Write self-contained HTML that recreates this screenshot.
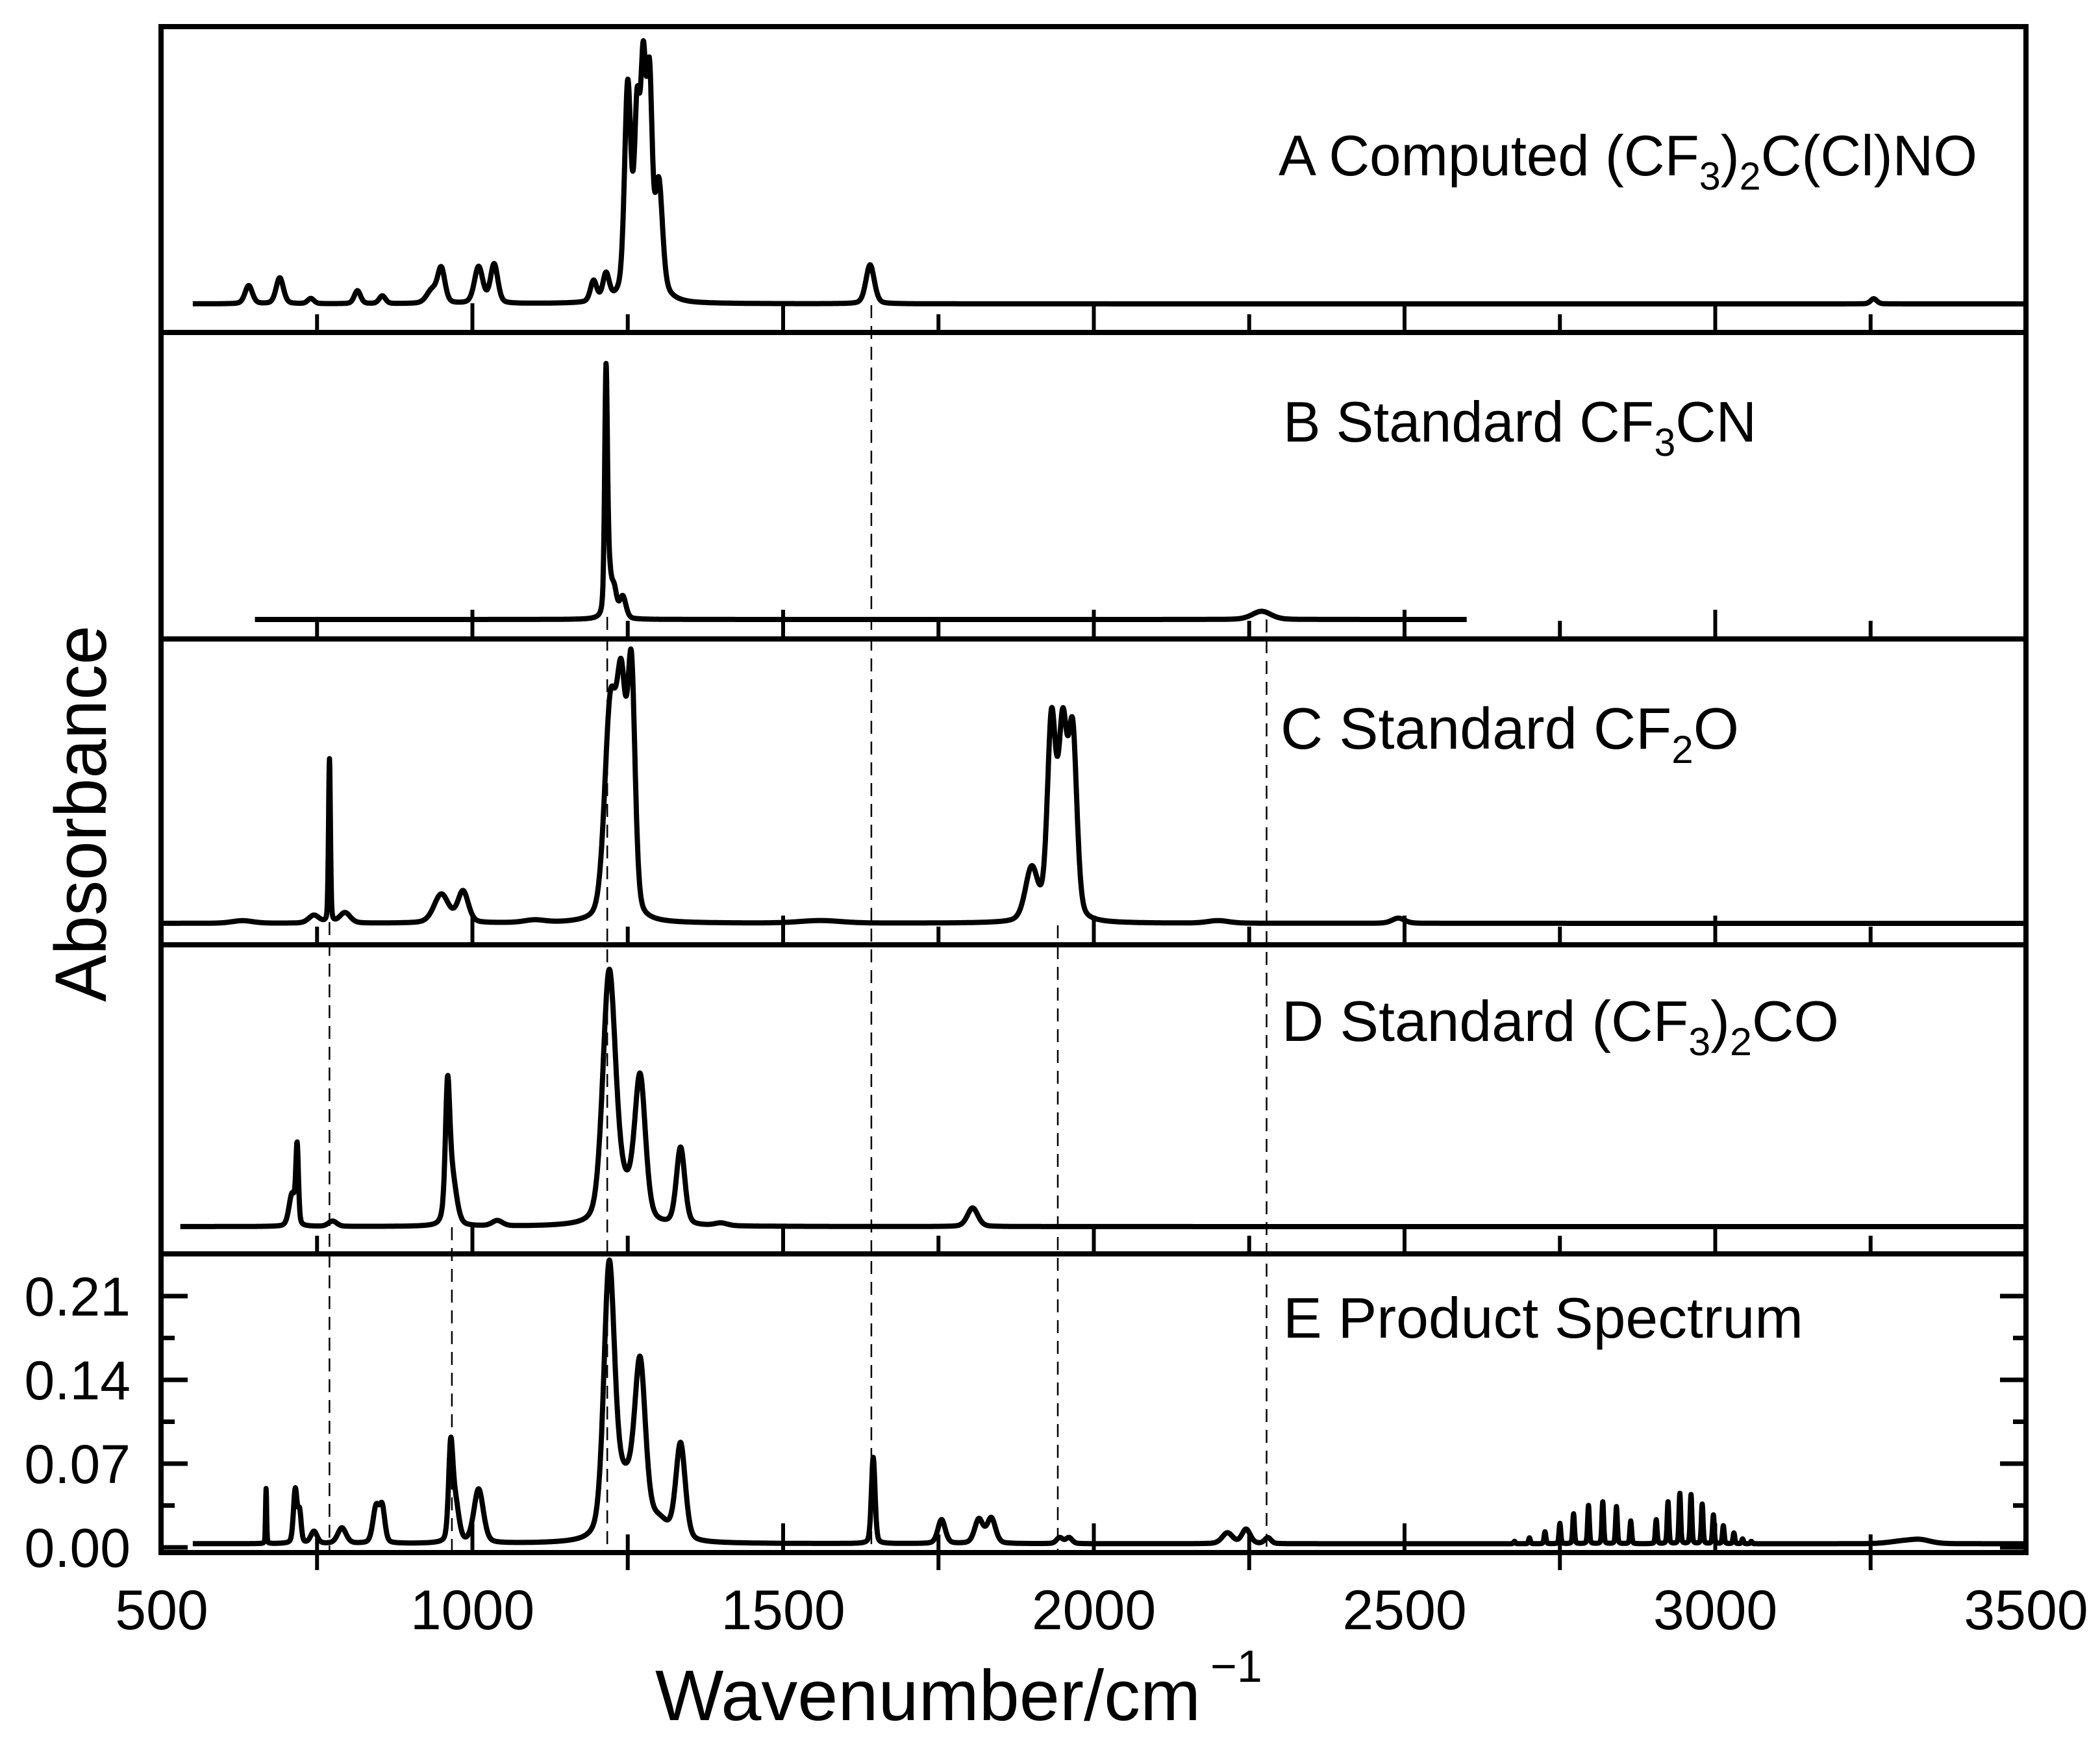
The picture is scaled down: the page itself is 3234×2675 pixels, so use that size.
<!DOCTYPE html>
<html><head><meta charset="utf-8"><style>
html,body{margin:0;padding:0;background:#fff}
svg{display:block}
text{font-family:"Liberation Sans",Arial,sans-serif;fill:#000}
</style></head><body>
<svg id="chart" xmlns="http://www.w3.org/2000/svg" width="3234" height="2675" viewBox="0 0 3234 2675">
<g id="frames"></g>
<g id="dash"></g>
<g id="series"></g>
<g id="ticks"></g>
<g id="labels"></g>
<text x="1969" y="270" font-size="88" textLength="1076" lengthAdjust="spacingAndGlyphs">A Computed (CF<tspan font-size="60" dy="22">3</tspan><tspan dy="-22">)</tspan><tspan font-size="60" dy="22">2</tspan><tspan dy="-22">C(Cl)NO</tspan></text>
<text x="1976" y="680" font-size="88" textLength="729" lengthAdjust="spacingAndGlyphs">B Standard CF<tspan font-size="60" dy="22">3</tspan><tspan dy="-22">CN</tspan></text>
<text x="1972" y="1153" font-size="90" textLength="706" lengthAdjust="spacingAndGlyphs">C Standard CF<tspan font-size="60" dy="22">2</tspan><tspan dy="-22">O</tspan></text>
<text x="1974" y="1603" font-size="88" textLength="858" lengthAdjust="spacingAndGlyphs">D Standard (CF<tspan font-size="60" dy="22">3</tspan><tspan dy="-22">)</tspan><tspan font-size="60" dy="22">2</tspan><tspan dy="-22">CO</tspan></text>
<text x="1976" y="2060" font-size="88" textLength="801" lengthAdjust="spacingAndGlyphs">E Product Spectrum</text>
<text x="1009" y="2649" font-size="110" textLength="840" lengthAdjust="spacingAndGlyphs">Wavenumber/cm</text>
<text x="1864" y="2590" font-size="70">−1</text>
<text transform="translate(163,1253) rotate(-90)" text-anchor="middle" font-size="112" textLength="580" lengthAdjust="spacingAndGlyphs">Absorbance</text>
</svg>
<script>
// ---- data: peaks (center cm-1, height, half-width) ----
const aCenters=[640,690,740,815,855,935,950,1010,1035,1195,1215,1250,1265,1275,1285,1300,1275,1640,3255];
const aHeights=[0.07,0.10,0.02,0.05,0.03,0.05,0.13,0.14,0.15,0.08,0.10,0.78,0.62,0.77,0.74,0.40,0.08,0.15,0.02];
const aWidths=[7,7,6,6,6,10,7,8,7,6,6,6,5,5,5,7,30,8,6];
const aRange=[550,3500];
const bCenters=[1215,1218,1228,1242,2270];
const bHeights=[0.78,0.2,0.1,0.08,0.03];
const bWidths=[2.5,5,5,6,18];
const bRange=[650,2600];
const cCenters=[630,745,770,795,950,985,1100,1222,1240,1256,1560,1900,1932,1950,1966,2200,2490];
const cHeights=[0.01,0.03,0.63,0.04,0.11,0.12,0.01,0.8,0.8,0.9,0.01,0.2,0.76,0.7,0.7,0.01,0.02];
const cWidths=[20,10,1.8,10,14,10,20,11,9,7,40,12,8,8,8,20,12];
const cRange=[500,3500];
const dCenters=[710,718,775,960,966,1040,1220,1245,1270,1335,1400,1805];
const dHeights=[0.12,0.28,0.02,0.42,0.2,0.02,0.9,0.12,0.5,0.29,0.01,0.07];
const dWidths=[6,2.5,8,4,9,10,12,25,10,8,12,10];
const dRange=[530,3500];
const eCenters=[668,715,722,745,790,845,855,965,972,1010,1220,1245,1270,1300,1335,1645,1755,1815,1835,1945,1960,2215,2245,2280,
 2677,2701,2726,2750,2772,2796,2819,2841,2864,2905,2924,2943,2961,2979,2997,3013,3030,3044,3058,3300,3330];
const eHeights=[0.046,0.045,0.025,0.01,0.013,0.03,0.028,0.07,0.035,0.045,0.21,0.05,0.125,0.015,0.08,0.072,0.02,0.02,0.021,0.005,0.005,0.009,0.012,0.005,
 0.002,0.005,0.010,0.017,0.025,0.032,0.035,0.031,0.019,0.020,0.035,0.042,0.041,0.033,0.024,0.015,0.009,0.004,0.002,0.002,0.003];
const eWidths=[1,3.5,3,6,8,6,5,4,7,9,10,25,10,20,9,3.5,7,8,8,6,6,10,8,6,
 1.6,1.6,1.6,1.6,1.6,1.6,1.6,1.6,1.6,1.6,1.6,1.6,1.6,1.6,1.6,1.6,1.6,1.6,1.6,25,20];
const eRange=[550,3500];
const eBaseline=0.003;
const xTickLabels=["500","1000","1500","2000","2500","3000","3500"];
const yTickLabels=["0.00","0.07","0.14","0.21"];
// [wavenumber, start y, end y]
const dashedPositions=[[770,1420,2391],[967,1890,2391],[1217,950,2391],[1642,470,2391],[1942,1425,2391],[2278,954,2391]];

// ---- geometry ----
const NS="http://www.w3.org/2000/svg";
const L=249,R=3120;
const X=w=>L+(w-500)*(R-L)/3000;
const ETA=0.3;
const panels=[
 {name:'a',c:aCenters,h:aHeights,w:aWidths,r:aRange,base:468,scale:400,b0:0},
 {name:'b',c:bCenters,h:bHeights,w:bWidths,r:bRange,base:954,scale:420,b0:0},
 {name:'c',c:cCenters,h:cHeights,w:cWidths,r:cRange,base:1422,scale:400,b0:0},
 {name:'d',c:dCenters,h:dHeights,w:dWidths,r:dRange,base:1889,scale:410,b0:0},
 {name:'e',c:eCenters,h:eHeights,w:eWidths,r:eRange,base:2383,scale:1843,b0:eBaseline}
];
const seps=[41,512,984,1455,1931,2391];
function mk(t,a,p){const e=document.createElementNS(NS,t);for(const k in a)e.setAttribute(k,a[k]);p.appendChild(e);return e;}
const F=document.getElementById('frames'),S=document.getElementById('series'),T=document.getElementById('ticks'),Lb=document.getElementById('labels'),D=document.getElementById('dash');

for(const y of seps){const l=mk('line',{x1:L-4,x2:R+4,y1:y,y2:y,stroke:'#000','stroke-width':8},F);

}
for(const x of [L-1,R]){const l=mk('line',{x1:x,x2:x,y1:37,y2:2395,stroke:'#000','stroke-width':8},F);

}

for(const d of dashedPositions){const l=mk('line',{x1:X(d[0]),x2:X(d[0]),y1:d[1],y2:d[2],stroke:'#000','stroke-width':2.5,'stroke-dasharray':'20 12'},D);

}

function shape(dx,hw){const g=Math.exp(-0.6931*dx*dx/(hw*hw));const l=hw*hw/(dx*dx+hw*hw);return (1-ETA)*g+ETA*l;}
for(const p of panels){
 let pts=[];
 for(let w=p.r[0];w<=p.r[1];w+=0.5){
  let v=p.b0;
  for(let i=0;i<p.c.length;i++){v+=p.h[i]*shape(w-p.c[i],p.w[i]);}
  pts.push(X(w).toFixed(1)+','+(p.base-v*p.scale).toFixed(1));
 }
 const pl=mk('polyline',{points:pts.join(' '),fill:'none',stroke:'#000','stroke-width':8,'stroke-linejoin':'round'},S);
 
 
}

for(let k=0;k<5;k++){
 const by=seps[k+1]-3;
 for(let w=750;w<3500;w+=250){
  const major=(w%500===0);
  const len=major?42:25;
  const t=mk('line',{x1:X(w),x2:X(w),y1:by,y2:by-len,stroke:'#000','stroke-width':6},T);
  
  
 }
}
for(let w=750;w<3500;w+=500){
 const t=mk('line',{x1:X(w),x2:X(w),y1:2391,y2:2418,stroke:'#000','stroke-width':6},T);
 
 
}
xTickLabels.forEach((s,i)=>{
 const w=500+i*500;
 const t=mk('text',{x:X(w),y:2509,'font-size':86,'text-anchor':'middle'},Lb);t.textContent=s;
 
 
});
const YE=v=>2383-v*1843;
for(let v=0;v<=0.2451;v+=0.035){
 const major=Math.abs((v/0.07)-Math.round(v/0.07))<1e-6;
 const len=major?40:20;
 for(const [x0,dir] of [[L,1],[R,-1]]){
  const t=mk('line',{x1:x0,x2:x0+dir*len,y1:YE(v),y2:YE(v),stroke:'#000','stroke-width':7},T);
  
  
 }
}
yTickLabels.forEach(s=>{
 const v=parseFloat(s);
 const t=mk('text',{x:201,y:YE(v)+30,'font-size':84,'text-anchor':'end'},Lb);t.textContent=s;
 
 
});
</script>
</body></html>
